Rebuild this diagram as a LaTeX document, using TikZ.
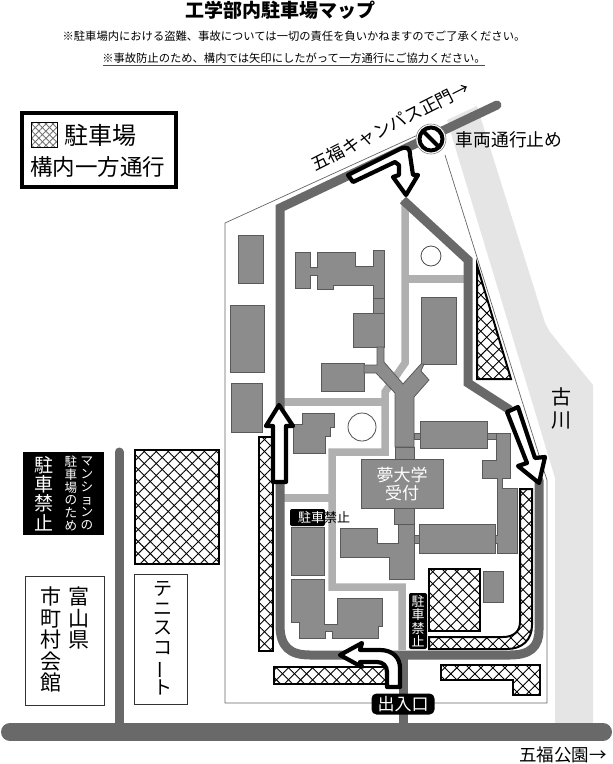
\documentclass[tikz,border=0pt]{standalone}
\usepackage{fontspec}
\setmainfont{Noto Sans CJK JP}
\usetikzlibrary{patterns.meta}
\definecolor{roaddark}{gray}{.41}
\definecolor{roadlight}{gray}{.69}
\definecolor{bldgfill}{gray}{.55}
\definecolor{bldgline}{gray}{.35}
\definecolor{riverfill}{gray}{.9}
\newcommand{\fsize}[2]{\fontsize{#1}{#2}\selectfont}
\begin{document}
\begin{tikzpicture}[x=1pt, y=-1pt,
    darkroad/.style={draw=roaddark, line width=9pt},
    lightroad/.style={draw=roadlight, line width=7.5pt},
    bldg/.style={fill=bldgfill, draw=bldgline, line width=.8pt},
    hatched/.style 2 args={preaction={fill=white},
      preaction={pattern={Lines[angle=45,distance=#2,line width=.9pt]}},
      preaction={pattern={Lines[angle=-45,distance=#2,line width=.9pt]}},
      draw=black, line width=#1},
    parking/.style={hatched={2pt}{8.5pt}},
    parkingbig/.style={hatched={2.8pt}{8.5pt}},
    oneway/.style={fill=white, draw=black, line width=4.2pt, line join=round},
    plainbox/.style={draw=black!80, line width=1pt},
    blackbox/.style={fill=black, text=white, inner sep=0pt, align=center},
    label/.style={inner sep=0pt, align=center}]
  \useasboundingbox (0,0) rectangle (613,764);

  % heading
  \node[label, font=\fsize{19}{19}\bfseries] (title) at (280,10) {工学部内駐車場マップ};
  \node[label, font=\fsize{11.3}{12}] (notea) at (294,36) {※駐車場内における盗難、事故については一切の責任を負いかねますのでご了承ください。};
  \node[label, font=\fsize{11.3}{12}] (noteb) at (294,58) {※事故防止のため、構内では矢印にしたがって一方通行にご協力ください。};
  \draw[black!70, line width=1.2pt] (103,65.5) -- (485,65.5);

  % legend
  \draw[line width=4pt] (22,113) rectangle (176,187);
  \draw[pattern color=black!55, hatched={.8pt}{5pt}] (31,122) rectangle (57,147);
  \node[label, font=\fsize{24}{24}] (legpark) at (100,135) {駐車場};
  \node[label, font=\fsize{22.5}{24}] (legway) at (98,167) {構内一方通行};

  % river
  \fill[riverfill] (447,120) -- (477,106) -- (545,323) -- (550,332) -- (593,385)
    -- (593,724) -- (555,724) -- (555,478) -- cycle;

  % site boundary
  \draw[black!60, line width=.7pt] (420,134) -- (225,223) -- (225,703) -- (547,703)
    -- (547,480) -- (543,468) -- (445,155);

  % roads
  \draw[lightroad] (405,200) -- (405,363) -- (385,392) -- (385,452) -- (332,452)
    -- (332,587) -- (402,587) -- (402,650);
  \draw[lightroad] (283,402) -- (385,402);
  \draw[lightroad] (405,279) -- (465,279);
  \draw[lightroad] (282,498) -- (332,498);
  \draw[darkroad, line cap=round] (497,105) -- (280,208) -- (280,625)
    .. controls (280,647) and (290,655) .. (310,655) -- (510,655)
    .. controls (530,655) and (539,647) .. (539,630) -- (539,480);
  \draw[darkroad] (510,410) -- (468,383) -- (468,260) -- (403,200);
  \draw[darkroad] (403,655) -- (403,724);
  \draw[roaddark, line width=18pt, line cap=round] (10,732) -- (603,732);
  \draw[darkroad, line cap=round] (119,452) -- (119,726);

  % buildings
  \foreach \xa/\ya/\xb/\yb in {238/235/263/283, 230/305/264/372, 231/383/262/432,
      373/298/384/313, 353/313/384/347, 421/297/456/364, 395/447/414/459,
      414/433/420/439, 420/421/487/448, 487/433/496/439, 361/459/443/508,
      394/508/414/524, 419/524/495/553, 414/535/419/543, 483/571/503/602,
      291/527/324/575, 321/363/364/391}{
    \draw[bldg] (\xa,\ya) rectangle (\xb,\yb);
  }
  \draw[bldg] (295,252) -- (310,252) -- (310,267) -- (317,267) -- (317,252) -- (355,252)
    -- (355,266) -- (373,266) -- (373,250) -- (384,250) -- (384,298) -- (373,298)
    -- (373,285) -- (333,285) -- (333,289) -- (317,289) -- (317,275) -- (310,275)
    -- (310,288) -- (295,288) -- cycle;
  \draw[bldg] (377,347) -- (384,347) -- (384,362) -- (403,384) -- (421,364) -- (424,364)
    -- (421,371) -- (429,380) -- (414,397) -- (414,447) -- (395,447) -- (395,393)
    -- (376,373) -- (364,373) -- (364,365) -- (377,365) -- cycle;
  \draw[bldg] (302,413) -- (334,413) -- (334,427) -- (330,427) -- (330,436) -- (325,436)
    -- (325,453) -- (293,453) -- (293,424) -- (302,424) -- cycle;
  \draw[bldg] (496,433) -- (510,433) -- (510,478) -- (502,478) -- (502,488) -- (517,488)
    -- (517,553) -- (497,553) -- (497,543) -- (495,543) -- (495,535) -- (497,535)
    -- (497,478) -- (482,478) -- (482,460) -- (496,460) -- cycle;
  \draw[bldg] (398,524) -- (414,524) -- (414,579) -- (389,579) -- (389,557) -- (340,557)
    -- (340,528) -- (377,528) -- (377,543) -- (398,543) -- cycle;
  \draw[bldg] (291,579) -- (324,579) -- (324,624) -- (337,624) -- (337,598) -- (382,598)
    -- (382,626) -- (378,626) -- (378,638) -- (332,638) -- (332,631) -- (325,631)
    -- (325,638) -- (299,638) -- (299,622) -- (291,622) -- cycle;
  \draw[black!70, line width=.8pt] (431,256) circle (10);
  \draw[black!70, line width=.8pt] (362,427) circle (14);
  \node[label, text=white, font=\fsize{17}{18}] (recept) at (402,484) {夢大学\\受付};

  % parking
  \draw[parking] (477,265) -- (511,379) -- (477,379) -- cycle;
  \draw[parking] (258.5,437) rectangle (273,651);
  \draw[parking] (274,667) rectangle (387,684);
  \draw[parking] (441,665) -- (540,665) -- (540,695) -- (513,695) -- (513,680) -- (441,680) -- cycle;
  \draw[parkingbig] (429,569) rectangle (480,631);
  \draw[parkingbig] (135,450) rectangle (219,564);
  \draw[parking] (429,637) -- (503,637) .. controls (514,637) and (520,631) .. (520,622)
    -- (520,489) -- (532,489) -- (532,625) .. controls (532,640) and (522,649) .. (507,649)
    -- (429,649) -- cycle;

  % one-way arrows
  \draw[oneway] (348,175) -- (400,149) .. controls (407,146) and (410,148) .. (410,155)
    -- (413,175) -- (418,175) -- (406,195) -- (393,177) -- (399,175) -- (399,165)
    -- (395,162) -- (353,182) -- cycle;
  \draw[oneway] (279,405) -- (293,426) -- (286,426) -- (286,482) -- (273,482) -- (273,426)
    -- (266,426) -- cycle;
  \draw[oneway] (507,412) -- (518,407) -- (535,458) -- (545,457) -- (539,483) -- (518,466)
    -- (527,463) -- cycle;
  \draw[oneway] (340,655) -- (362,643) -- (360,650) -- (380,650)
    .. controls (393,650) and (400,658) .. (400,668) -- (400,687) -- (387,687) -- (387,672)
    .. controls (387,666) and (383,662) .. (377,662) -- (360,662) -- (362,667) -- cycle;

  % no entry sign
  \draw[black!50, line width=.6pt, fill=white] (431,139) circle (15);
  \draw[line width=4pt] (431,139) circle (11.5);
  \draw[line width=4pt] (423,131) -- (439,147);

  % labels
  \node[label, rotate=27, font=\fsize{17.5}{18}] (gate) at (390,126) {五福キャンパス正門→};
  \node[label, font=\fsize{17.8}{18}] (noway) at (509,140) {車両通行止め};
  \node[label, font=\fsize{20}{23}] (furu) at (561,408) {古\\川};
  \node[label, font=\fsize{17.5}{18}] (park) at (563,755) {五福公園→};

  % boxes on the left
  \fill (23,452) rectangle (104,535);
  \node[label, text=white, font=\fsize{19}{19.3}] (nopa) at (44,493.5) {駐\\車\\禁\\止};
  \node[label, text=white, font=\fsize{12.6}{12.8}] (mana) at (71,493.5) {駐\\車\\場\\の\\た\\め};
  \node[label, text=white, font=\fsize{12.6}{12.8}] (manb) at (87,493.5) {マ\\ン\\シ\\ョ\\ン\\の};
  \draw[plainbox] (25,576) rectangle (104,705);
  \node[label, anchor=north, font=\fsize{21}{21.5}] (toma) at (79,587) {富\\山\\県};
  \node[label, anchor=north, font=\fsize{21}{21.5}] (tomb) at (51,587) {市\\町\\村\\会\\館};
  \draw[plainbox] (134,574) rectangle (187,704);
  \node[label, font=\fsize{19}{19.5}] (tennis) at (163,638.5)
    {テ\\ニ\\ス\\コ\\\rotatebox[origin=c]{90}{ー}\\ト};

  % no parking tags
  \fill[black, rounded corners=2pt] (290,509) rectangle (325,526);
  \node[label, text=white, anchor=west, font=\fsize{13}{13}] (tagaa) at (298,517.5) {駐車};
  \node[label, anchor=west, font=\fsize{13}{13}] (tagab) at (324,517.5) {禁止};
  \node[blackbox, rounded corners=2pt, minimum width=18pt, minimum height=56pt, font=\fsize{13}{13.5}] (tagb) at (418,621)
    {駐\\車\\禁\\止};
  \node[blackbox, rounded corners=5pt, minimum width=63pt, minimum height=21pt, font=\fsize{17}{17}] (gatein) at (403,704)
    {出入口};
\end{tikzpicture}
\end{document}
